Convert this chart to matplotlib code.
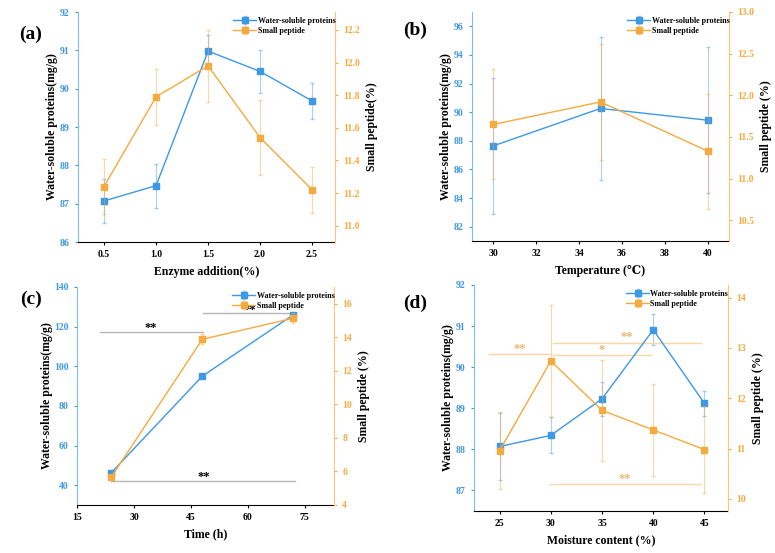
import numpy as np
import matplotlib
matplotlib.use("Agg")
import matplotlib.pyplot as plt

plt.rcParams['font.family'] = ['Liberation Serif', 'DejaVu Serif']
plt.rcParams['font.weight'] = 'bold'
plt.rcParams['axes.labelweight'] = 'bold'

BLUE = '#3d98e6'
ORANGE = '#f5aa3f'

# (a) enzyme addition
enz_x = [0.5, 1.0, 1.5, 2.0, 2.5]
enz_wsp = [87.07, 87.47, 90.98, 90.45, 89.68]
enz_wsp_err = [0.58, 0.57, 0.41, 0.57, 0.48]
enz_pep = [11.24, 11.79, 11.98, 11.54, 11.22]
enz_pep_err = [0.17, 0.17, 0.22, 0.23, 0.14]

# (b) temperature
temp_x = [30, 35, 40]
temp_wsp = [87.65, 90.26, 89.44]
temp_wsp_err = [4.77, 5.0, 5.1]
temp_pep = [11.65, 11.92, 11.33]
temp_pep_err = [0.66, 0.70, 0.69]

# (c) time
time_x = [24, 48, 72]
time_wsp = [46.2, 95.0, 126.0]
time_wsp_err = [0.8, 0.8, 0.8]
time_pep = [5.66, 13.88, 15.14]
time_pep_err = [0.1, 0.3, 0.3]

# (d) moisture content
moist_x = [25, 30, 35, 40, 45]
moist_wsp = [88.07, 88.34, 89.23, 90.91, 89.12]
moist_wsp_err = [0.81, 0.44, 0.41, 0.38, 0.30]
moist_pep = [10.96, 12.74, 11.76, 11.37, 10.98]
moist_pep_err = [0.76, 1.12, 1.0, 0.91, 0.87]

fig = plt.figure(figsize=(7.75, 5.53), dpi=100)
W, H = 775.0, 553.0


def make_axes(l, r, t, b):
    return fig.add_axes([l / W, 1 - b / H, (r - l) / W, (b - t) / H])


def panel(box, x, wsp, wsp_err, pep, pep_err, xlim, xticks, ylim1, yticks1,
          ylim2, yticks2, xlabel, ylabel2, letter, letter_xy, fmt1='%g', fmt2='%g'):
    ax = make_axes(*box)
    ax2 = ax.twinx()
    l1 = ax.errorbar(x, wsp, yerr=wsp_err, color=BLUE, marker='s', ms=4.5, lw=1,
                     ecolor=BLUE, elinewidth=0.8, capsize=1.5, label='Water-soluble proteins')
    for c in list(l1[1]) + list(l1[2]):
        c.set_alpha(0.45)
    l2 = ax2.errorbar(x, pep, yerr=pep_err, color=ORANGE, marker='s', ms=4.5, lw=1,
                      ecolor=ORANGE, elinewidth=0.8, capsize=1.5, label='Small peptide')
    for c in list(l2[1]) + list(l2[2]):
        c.set_alpha(0.45)
    ax.set_xlim(*xlim)
    ax.set_xticks(xticks)
    ax.set_ylim(*ylim1)
    ax.set_yticks(yticks1)
    ax2.set_ylim(*ylim2)
    ax2.set_yticks(yticks2)
    ax.yaxis.set_major_formatter(matplotlib.ticker.FormatStrFormatter(fmt1))
    ax2.yaxis.set_major_formatter(matplotlib.ticker.FormatStrFormatter(fmt2))
    for a in (ax, ax2):
        a.spines['top'].set_visible(False)
    ax.spines['right'].set_visible(False)
    ax2.spines['left'].set_visible(False)
    ax2.spines['bottom'].set_visible(False)
    ax.spines['left'].set_color('#7fbdf0')
    ax2.spines['right'].set_color('#f8c77f')
    ax.tick_params(axis='x', labelsize=7, length=2.5, width=0.8, pad=3)
    ax.tick_params(axis='y', labelsize=7, length=2.5, width=0.8, colors=BLUE)
    ax2.tick_params(axis='y', labelsize=7, length=2.5, width=0.8, colors=ORANGE)
    ax.set_xlabel(xlabel, fontsize=8.5, labelpad=5)
    ax.set_ylabel('Water-soluble proteins(mg/g)', fontsize=8.5, labelpad=1)
    ax2.set_ylabel(ylabel2, fontsize=8.5, labelpad=4)
    ax2.legend([l1, l2], ['Water-soluble proteins', 'Small peptide'], loc='upper right',
               bbox_to_anchor=(1.02, 1.0), frameon=False, fontsize=5.8, handlelength=2.8,
               handletextpad=0.2, labelspacing=0.3, borderaxespad=0.2)
    fig.text(letter_xy[0] / W, 1 - letter_xy[1] / H, letter, fontsize=14,
             ha='center', va='center', fontweight='bold')
    return ax, ax2


panel((78, 335, 12, 242), enz_x, enz_wsp, enz_wsp_err, enz_pep, enz_pep_err,
      (0.25, 2.72), enz_x, (86, 92), range(86, 93), (10.9, 12.31),
      [11.0, 11.2, 11.4, 11.6, 11.8, 12.0, 12.2], 'Enzyme addition(%)',
      'Small peptide(%)', '(a)', (31, 34), fmt2='%.1f')

panel((472, 729, 12, 241), temp_x, temp_wsp, temp_wsp_err, temp_pep, temp_pep_err,
      (29, 41), range(30, 41, 2), (81, 97), range(82, 97, 2), (10.25, 13.0),
      [10.5, 11.0, 11.5, 12.0, 12.5, 13.0], 'Temperature (℃)',
      'Small peptide (%)', '(b)', (415, 30), fmt2='%.1f')

axc, axc2 = panel((77, 334, 287, 505), time_x, time_wsp, time_wsp_err, time_pep, time_pep_err,
                  (15, 82.7), range(15, 76, 15), (30, 140), range(40, 141, 20), (4, 17),
                  range(4, 17, 2), 'Time (h)', 'Small peptide (%)', '(c)', (31, 299))
GRAY = '#b5b5b5'
axc.plot([21.1, 48.1], [117.3, 117.3], color=GRAY, lw=1)
axc.text(34.5, 119.5, '**', ha='center', va='center', fontsize=9)
axc.plot([48.3, 72.4], [126.7, 126.7], color=GRAY, lw=1)
axc.text(60.4, 128.5, '**', ha='center', va='center', fontsize=9)
axc.plot([24.0, 72.4], [42.2, 42.2], color=GRAY, lw=1)
axc.text(48.3, 44.2, '**', ha='center', va='center', fontsize=9)

axd, axd2 = panel((474, 728, 285, 511), moist_x, moist_wsp, moist_wsp_err, moist_pep, moist_pep_err,
                  (22.5, 47.3), range(25, 46, 5), (86.5, 92), range(87, 93), (9.76, 14.25),
                  range(10, 15), 'Moisture content (%)', 'Small peptide (%)', '(d)', (415, 303))
LO = '#fbd6a6'
STAR = '#e8b676'
axd.plot([24.0, 29.9], [90.31, 90.31], color=LO, lw=1)
axd.text(27.0, 90.44, '**', ha='center', va='center', fontsize=9, color=STAR)
axd.plot([30.2, 39.8], [90.3, 90.3], color=LO, lw=1)
axd.text(35.0, 90.43, '*', ha='center', va='center', fontsize=9, color=STAR)
axd.plot([30.2, 44.7], [90.6, 90.6], color=LO, lw=1)
axd.text(37.4, 90.74, '**', ha='center', va='center', fontsize=9, color=STAR)
axd.plot([29.9, 44.7], [87.15, 87.15], color=LO, lw=1)
axd.text(37.2, 87.29, '**', ha='center', va='center', fontsize=9, color=STAR)

fig.savefig('out.png', dpi=100)
